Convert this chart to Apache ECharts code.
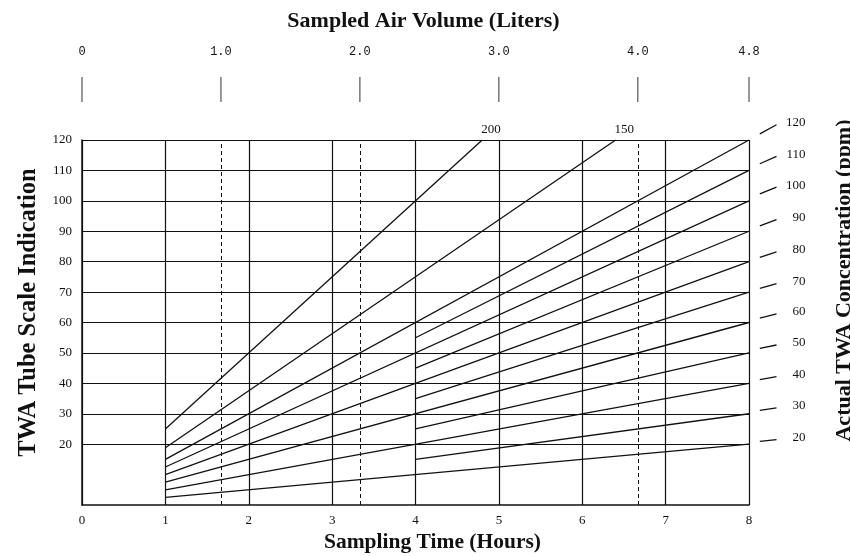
<!DOCTYPE html>
<html>
<head>
<meta charset="utf-8">
<script src="https://cdn.jsdelivr.net/npm/echarts@6/dist/echarts.min.js"></script>
<style>
  html, body { margin: 0; padding: 0; background: #fff; }
  #chart { width: 850px; height: 556px; }
</style>
</head>
<body>
<div id="chart"></div>
<script>
// 刻度
const hourTicks = [0, 1, 2, 3, 4, 5, 6, 7, 8];
const readingTicks = [20, 30, 40, 50, 60, 70, 80, 90, 100, 110, 120];
const volumeTicks = [0, 1.0, 2.0, 3.0, 4.0, 4.8];
const dashedVolumes = [1.0, 2.0, 4.0];

// 浓度线 (ppm)
const concentrations = [200, 150, 120, 110, 100, 90, 80, 70, 60, 50, 40, 30, 20];
const startHours = [1, 1, 1, 4, 1, 4, 1, 4, 1, 4, 1, 4, 1];
const startReadings = [25, 18.8, 15, 55, 12.5, 45, 10, 35, 7.5, 25, 5, 15, 2.5];
const endHours = [4.8, 6.4, 8, 8, 8, 8, 8, 8, 8, 8, 8, 8, 8];
const endReadings = [120, 120, 120, 110, 100, 90, 80, 70, 60, 50, 40, 30, 20];

// 右侧小斜线
const rightLabels = [120, 110, 100, 90, 80, 70, 60, 50, 40, 30, 20];
const tickHours = [8.13, 8.33];
const tickFrom = [122, 112.2, 102.3, 91.8, 81.4, 71.2, 61.4, 51.5, 41.2, 31.1, 20.9];
const tickTo = [125, 114.6, 104.5, 93.8, 83.2, 72.8, 62.8, 52.6, 42.2, 31.9, 21.5];

const ink = "#111";
const serif = "Liberation Serif";

const series = [];

// 水平线 + 虚线
series.push({
  type: "line",
  data: [],
  silent: true,
  markLine: {
    silent: true,
    symbol: "none",
    label: { show: false },
    lineStyle: { color: ink, width: 1.2, type: "solid" },
    data: readingTicks.map((v) => ({ yAxis: v })),
  },
});
series.push({
  type: "line",
  xAxisIndex: 1,
  data: [],
  silent: true,
  markLine: {
    silent: true,
    symbol: "none",
    label: { show: false },
    lineStyle: { color: ink, width: 1, type: [4, 3] },
    data: dashedVolumes.map((v) => ({ xAxis: v })),
  },
});

// 顶部体积刻度短竖线
series.push({
  type: "custom",
  xAxisIndex: 1,
  clip: false,
  silent: true,
  data: volumeTicks.map((v) => [v, 120]),
  renderItem: (params, api) => {
    const p = api.coord([api.value(0), api.value(1)]);
    return {
      type: "line",
      shape: { x1: p[0], y1: p[1] - 38, x2: p[0], y2: p[1] - 63 },
      style: { stroke: "#333", lineWidth: 1 },
    };
  },
});

concentrations.forEach((c, i) => {
  const labeled = endReadings[i] >= 120 && endHours[i] < 8;
  series.push({
    name: String(c),
    type: "line",
    symbol: "none",
    data: [
      [startHours[i], startReadings[i]],
      [endHours[i], endReadings[i]],
    ],
    lineStyle: { color: ink, width: 1.3 },
    endLabel: {
      show: labeled,
      distance: 4,
      offset: [-5, -10],
      formatter: String(c),
      color: ink,
      fontFamily: serif,
      fontSize: 13,
    },
  });
});

// 右侧浓度刻度
series.push({
  type: "custom",
  clip: false,
  silent: true,
  data: rightLabels.map((c, i) => [tickHours[0], tickFrom[i], tickHours[1], tickTo[i], c]),
  encode: { x: [0, 2], y: [1, 3] },
  renderItem: (params, api) => {
    const p1 = api.coord([api.value(0), api.value(1)]);
    const p2 = api.coord([api.value(2), api.value(3)]);
    return {
      type: "group",
      children: [
        {
          type: "line",
          shape: { x1: p1[0], y1: p1[1], x2: p2[0], y2: p2[1] },
          style: { stroke: ink, lineWidth: 1.3 },
        },
        {
          type: "text",
          x: p2[0] + 29,
          y: p2[1] - 2,
          style: {
            text: String(api.value(4)),
            fill: ink,
            font: "13px " + serif,
            align: "right",
            verticalAlign: "middle",
          },
        },
      ],
    };
  },
});

const option = {
  animation: false,
  grid: { left: 82, right: 101, top: 140, bottom: 51, outerBoundsMode: "none" },
  xAxis: [
    {
      type: "value",
      min: 0,
      max: 8,
      interval: 1,
      name: "Sampling Time (Hours)",
      nameLocation: "middle",
      nameGap: 26,
      nameTextStyle: {
        fontFamily: serif,
        fontSize: 21.5,
        fontWeight: "bold",
        color: ink,
        padding: [0, 0, 0, 34],
      },
      axisLine: { show: true, lineStyle: { color: ink, width: 1.5 } },
      axisTick: { show: false },
      axisLabel: { margin: 9, color: ink, fontFamily: serif, fontSize: 13 },
      splitLine: { show: true, lineStyle: { color: ink, width: 1.2 } },
    },
    {
      type: "value",
      position: "top",
      min: 0,
      max: 4.8,
      offset: 38,
      name: "Sampled Air Volume (Liters)",
      nameLocation: "middle",
      nameGap: 70,
      nameTextStyle: {
        fontFamily: serif,
        fontSize: 22,
        fontWeight: "bold",
        color: ink,
        padding: [0, 0, 0, 16],
      },
      axisLine: { show: false },
      axisTick: { show: false },
      axisLabel: {
        margin: 44,
        customValues: volumeTicks,
        color: ink,
        fontFamily: "Liberation Mono",
        fontSize: 12,
        formatter: (v) => (v === 0 ? "0" : v.toFixed(1)),
      },
      splitLine: { show: false },
    },
  ],
  yAxis: [
    {
      type: "value",
      min: 0,
      max: 120,
      interval: 10,
      name: "TWA Tube Scale Indication",
      nameLocation: "middle",
      nameGap: 40,
      nameTextStyle: {
        fontFamily: serif,
        fontSize: 24.5,
        fontWeight: "bold",
        color: ink,
        padding: [0, 0, 0, 20],
      },
      axisLine: { show: true, lineStyle: { color: ink, width: 1.5 } },
      axisTick: { show: false },
      axisLabel: {
        margin: 10,
        color: ink,
        fontFamily: serif,
        fontSize: 13,
        formatter: (v) => (readingTicks.includes(v) ? String(v) : ""),
      },
      splitLine: { show: false },
    },
    {
      type: "value",
      position: "right",
      min: 0,
      max: 120,
      interval: 10,
      name: "Actual TWA Concentration (ppm)",
      nameLocation: "middle",
      nameRotate: 90,
      nameGap: 84,
      nameTextStyle: {
        fontFamily: serif,
        fontSize: 22,
        fontWeight: "bold",
        color: ink,
        padding: [0, 0, 0, 84],
      },
      axisLine: { show: false },
      axisTick: { show: false },
      axisLabel: { show: false },
      splitLine: { show: false },
    },
  ],
  series: series,
};

const chart = echarts.init(document.getElementById("chart"));
chart.setOption(option);
</script>
</body>
</html>
